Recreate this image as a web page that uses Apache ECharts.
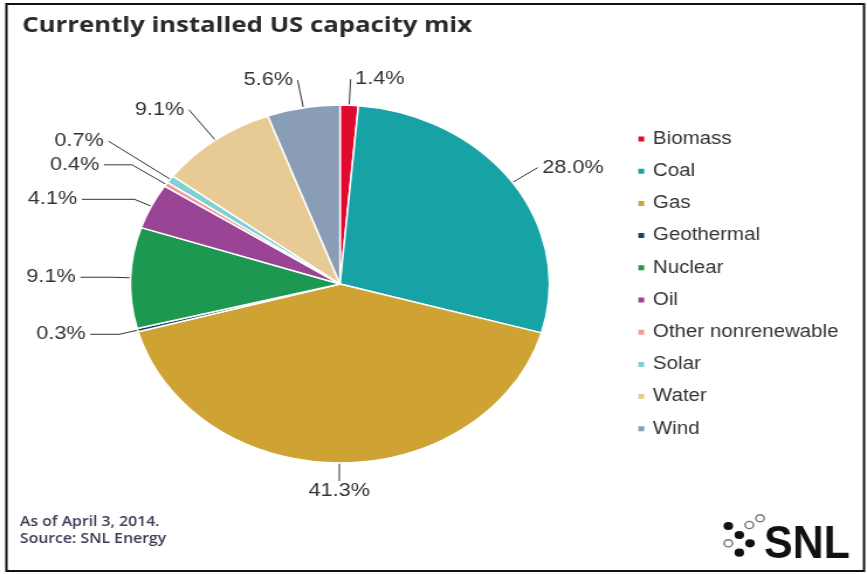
<!DOCTYPE html>
<html>
<head>
<meta charset="utf-8">
<script src="https://cdn.jsdelivr.net/npm/echarts@6/dist/echarts.min.js"></script>
<style>
  html, body { margin: 0; padding: 0; background: #fff; overflow: hidden; }
  #wrap { width: 867px; height: 574px; overflow: hidden; }
  /* the drawing is laid out on a narrower canvas and widened to the page */
  #chart { width: 741px; height: 574px; transform: scaleX(1.17); transform-origin: 0 0; }
</style>
</head>
<body>
<div id="wrap"><div id="chart"></div></div>
<script>
// Installed US generating capacity by source, share of total (%)
const sources = ['Biomass', 'Coal', 'Gas', 'Geothermal', 'Nuclear', 'Oil',
                 'Other nonrenewable', 'Solar', 'Water', 'Wind'];
const shares = [1.4, 28.0, 41.3, 0.3, 9.1, 4.1, 0.4, 0.7, 9.1, 5.6];
const colors = ['#e0092e', '#17a3a6', '#cfa333', '#1d3e6e', '#1c9850', '#9a4496',
                '#f2999f', '#7fd0d3', '#e8cb94', '#8a9db6'];

const titleText = 'Currently installed US capacity mix';
const noteLines = ['As of April 3, 2014.', 'Source: SNL Energy'];

// leader line segments per slice: [radial length, horizontal length]
const leaderStyle = {
  'Biomass': [26, 0], 'Coal': [26, 0], 'Gas': [16, 0], 'Geothermal': [16, 25],
  'Nuclear': [16, 27], 'Oil': [16, 45], 'Other nonrenewable': [35, 24],
  'Solar': [65, 0], 'Water': [38, 0], 'Wind': [28, 0]
};

const chart = echarts.init(document.getElementById('chart'), null, { renderer: 'canvas' });

// small dot pattern beside the SNL wordmark
const dotsFilled = [[622.5, 526], [631.9, 535], [641, 543.3], [631.9, 552.7]];
const dotsOpen = [[622.5, 543.3], [640.4, 525], [649.6, 518.3]];
const logoGraphics = [];
dotsFilled.forEach(([x, y]) => logoGraphics.push({
  type: 'circle', shape: { cx: x, cy: y, r: 4.1 }, style: { fill: '#111' }
}));
dotsOpen.forEach(([x, y]) => logoGraphics.push({
  type: 'circle', shape: { cx: x, cy: y, r: 3.6 }, style: { fill: '#fff', stroke: '#777', lineWidth: 1.4 }
}));
logoGraphics.push({
  type: 'text', x: 653, y: 545, scaleX: 0.78,
  style: { text: 'SNL', font: 'bold 47px "Liberation Sans", Arial, sans-serif', fill: '#111',
           textAlign: 'left', textVerticalAlign: 'middle' }
});

chart.setOption({
  animation: false,
  backgroundColor: '#fff',
  color: colors,
  title: {
    text: titleText,
    left: 14, top: 10,
    textStyle: { fontFamily: '"Open Sans", sans-serif', fontWeight: 'bold', fontSize: 22, color: '#2a2a2a' }
  },
  legend: {
    orient: 'vertical',
    left: 538.6, top: 125,
    icon: 'rect',
    itemWidth: 7, itemHeight: 7,
    itemGap: 14.2,
    data: sources,
    textStyle: { fontFamily: '"Liberation Sans", Arial, sans-serif', fontSize: 17.5, lineHeight: 18, color: '#333', padding: [0, 0, 0, 1.5] }
  },
  graphic: [
    { type: 'rect', shape: { x: 5.5, y: 4, width: 733, height: 567 },
      style: { fill: 'none', stroke: '#111', lineWidth: 2 } },
    { type: 'text', x: 17, y: 514,
      style: { text: noteLines.join('\n'), font: '600 13.5px "Open Sans", sans-serif', fill: '#3a3a55', lineHeight: 17 } },
    ...logoGraphics
  ],
  series: [{
    type: 'pie',
    center: [290.6, 284],
    radius: 179,
    startAngle: 90,
    clockwise: true,
    avoidLabelOverlap: false,
    itemStyle: { borderColor: '#fff', borderWidth: 1.5 },
    label: {
      show: true,
      formatter: p => p.value.toFixed(1) + '%',
      fontFamily: '"Liberation Sans", Arial, sans-serif',
      fontSize: 18.5,
      color: '#333',
      distanceToLabelLine: 4
    },
    labelLine: { show: true, lineStyle: { color: '#333', width: 1 } },
    // a leader line that drops straight down gets its label centred beneath it
    labelLayout: params => {
      const pts = params.labelLinePoints;
      if (!pts) return;
      const a = pts[0], b = pts[pts.length - 1];
      if (Math.abs(b[0] - a[0]) < 2 && b[1] > a[1]) {
        return { x: b[0], y: b[1] + 2, align: 'center', verticalAlign: 'top' };
      }
    },
    emphasis: { disabled: true },
    data: sources.map((name, i) => ({
      name,
      value: shares[i],
      labelLine: { length: leaderStyle[name][0], length2: leaderStyle[name][1] }
    }))
  }]
});
</script>
</body>
</html>
